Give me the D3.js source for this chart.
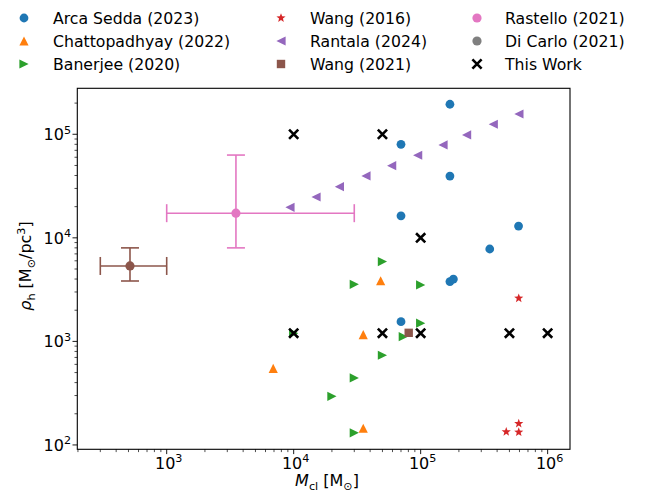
<!DOCTYPE html>
<html><head><meta charset="utf-8">
<script src="https://cdn.jsdelivr.net/npm/d3@7"></script>
<style>body{margin:0;background:#fff} text{font-family:"DejaVu Sans",sans-serif;fill:#000}</style>
</head><body><svg id="c" width="649" height="494"></svg>
<script>
// ---- data ----
const arcaX = [7.0e4, 1.70e5, 1.70e5, 7.0e4, 5.9e5, 3.5e5, 1.70e5, 1.81e5, 7.0e4];
const arcaY = [8.0e4, 1.95e5, 3.95e4, 1.63e4, 1.30e4, 7.8e3, 3.78e3, 4.0e3, 1.55e3];
const banX = [5e4, 3e4, 1e5, 1e5, 7.3e4, 5e4, 3e4, 2e4, 3e4, 1e4];
const banY = [5.9e3, 3.56e3, 3.51e3, 1.50e3, 1.11e3, 735, 444, 295, 131, 1.2e3];
const chaX = [4.84e4, 3.53e4, 6.9e3, 3.53e4];
const chaY = [3.85e3, 1.16e3, 550, 145];
const wang16X = [5.92e5, 4.72e5, 5.92e5, 5.92e5];
const wang16Y = [2.61e3, 134, 161, 133];
const ranX = [9.35e3, 1.50e4, 2.29e4, 3.71e4, 5.91e4, 9.47e4, 1.50e5, 2.30e5, 3.73e5, 5.94e5];
const ranY = [1.97e4, 2.48e4, 3.12e4, 3.96e4, 4.98e4, 6.27e4, 7.89e4, 9.86e4, 1.25e5, 1.57e5];
const wang21X = [8.05e4];
const wang21Y = [1.21e3];
const rasX = 3.51e3, rasY = 1.73e4, rasXlo = 1e3, rasXhi = 3e4, rasYlo = 8.0e3, rasYhi = 6.3e4;
const dicX = 514, dicY = 5.35e3, dicXlo = 300, dicXhi = 1e3, dicYlo = 3.83e3, dicYhi = 8.0e3;
const workX = [1e4, 5e4, 1e5, 1e4, 5e4, 1e5, 5e5, 1e6];
const workY = [1e5, 1e5, 1e4, 1.2e3, 1.2e3, 1.2e3, 1.2e3, 1.2e3];
const xTicks = [1e3, 1e4, 1e5, 1e6];
const yTicks = [1e2, 1e3, 1e4, 1e5];
const legendLabels = ["Arca Sedda (2023)", "Chattopadhyay (2022)", "Banerjee (2020)",
  "Wang (2016)", "Rantala (2024)", "Wang (2021)",
  "Rastello (2021)", "Di Carlo (2021)", "This Work"];

// ---- layout ----
const L = 77.3, R = 570, T = 88.3, B = 449.3;
const x = d3.scaleLog().domain([Math.pow(10, 2.296), Math.pow(10, 6.176)]).range([L, R]);
const y = d3.scaleLog().domain([Math.pow(10, 1.958), Math.pow(10, 5.444)]).range([B, T]);
const svg = d3.select("#c");
const C = {blue:"#1f77b4", orange:"#ff7f0e", green:"#2ca02c", red:"#d62728", purple:"#9467bd",
  brown:"#8c564b", pink:"#e377c2", gray:"#7f7f7f"};

// marker paths
const rT = 4.6;
const shapes = {
  circle: r => `M${r},0A${r},${r} 0 1,1 ${-r},0A${r},${r} 0 1,1 ${r},0Z`,
  up: r => `M0,${-r}L${-r},${r}L${r},${r}Z`,
  left: r => `M${-r},0L${r},${-r}L${r},${r}Z`,
  right: r => `M${r},0L${-r},${-r}L${-r},${r}Z`,
  square: r => `M${-r},${-r}H${r}V${r}H${-r}Z`,
  star: r => {
    let p = [];
    for (let i = 0; i < 10; i++) {
      const a = -Math.PI / 2 + i * Math.PI / 5;
      const rr = i % 2 ? r * 0.42 : r;
      p.push([rr * Math.cos(a), rr * Math.sin(a)]);
    }
    return "M" + p.map(d => d[0].toFixed(2) + "," + d[1].toFixed(2)).join("L") + "Z";
  },
  cross: r => `M${-r},${-r}L${r},${r}M${-r},${r}L${r},${-r}`
};

const g = svg.append("g");
function scatter(xs, ys, shape, r, color) {
  g.selectAll(null).data(xs.map((v, i) => [v, ys[i]])).enter().append("path")
    .attr("d", shapes[shape](r))
    .attr("transform", d => `translate(${x(d[0])},${y(d[1])})`)
    .attr("fill", shape === "cross" ? "none" : color)
    .attr("stroke", shape === "cross" ? color : "none")
    .attr("stroke-width", shape === "cross" ? 2.6 : 0);
}
function errbar(cx, cy, xlo, xhi, ylo, yhi, color) {
  const cap = 9;
  const eg = g.append("g").attr("stroke", color).attr("stroke-width", 1.6).attr("fill", "none");
  eg.append("line").attr("x1", x(xlo)).attr("x2", x(xhi)).attr("y1", y(cy)).attr("y2", y(cy));
  eg.append("line").attr("x1", x(cx)).attr("x2", x(cx)).attr("y1", y(ylo)).attr("y2", y(yhi));
  [xlo, xhi].forEach(v => eg.append("line").attr("x1", x(v)).attr("x2", x(v)).attr("y1", y(cy) - cap).attr("y2", y(cy) + cap));
  [ylo, yhi].forEach(v => eg.append("line").attr("y1", y(v)).attr("y2", y(v)).attr("x1", x(cx) - cap).attr("x2", x(cx) + cap));
  g.append("path").attr("d", shapes.circle(4.6)).attr("transform", `translate(${x(cx)},${y(cy)})`).attr("fill", color);
}

scatter(arcaX, arcaY, "circle", 4.4, C.blue);
scatter(banX, banY, "right", rT, C.green);
scatter(chaX, chaY, "up", rT, C.orange);
scatter(wang16X, wang16Y, "star", 4.8, C.red);
scatter(ranX, ranY, "left", rT, C.purple);
scatter(wang21X, wang21Y, "square", 4.2, C.brown);
errbar(rasX, rasY, rasXlo, rasXhi, rasYlo, rasYhi, C.pink);
errbar(dicX, dicY, dicXlo, dicXhi, dicYlo, dicYhi, C.brown);
scatter(workX, workY, "cross", 4.6, "#000");

// ---- axes ----
svg.append("rect").attr("x", L).attr("y", T).attr("width", R - L).attr("height", B - T)
  .attr("fill", "none").attr("stroke", "#000").attr("stroke-width", 1.1);

function minors(dom) {
  const out = [];
  for (let e = Math.floor(Math.log10(dom[0])); e <= Math.ceil(Math.log10(dom[1])); e++)
    for (let m = 2; m <= 9; m++) { const v = m * Math.pow(10, e); if (v >= dom[0] && v <= dom[1]) out.push(v); }
  return out;
}
const tk = svg.append("g").attr("stroke", "#000").attr("stroke-width", 0.9);
minors(x.domain()).forEach(v => tk.append("line").attr("x1", x(v)).attr("x2", x(v)).attr("y1", B).attr("y2", B + 2.8).attr("stroke-width", 0.7));
minors(y.domain()).forEach(v => tk.append("line").attr("y1", y(v)).attr("y2", y(v)).attr("x1", L).attr("x2", L - 2.8).attr("stroke-width", 0.7));
xTicks.forEach(v => tk.append("line").attr("x1", x(v)).attr("x2", x(v)).attr("y1", B).attr("y2", B + 4.8));
yTicks.forEach(v => tk.append("line").attr("y1", y(v)).attr("y2", y(v)).attr("x1", L).attr("x2", L - 4.8));

const FS = 16;
function powLabel(sel, v) {
  const e = Math.round(Math.log10(v));
  sel.append("tspan").text("10");
  sel.append("tspan").attr("dy", -0.42 * FS).attr("font-size", FS * 0.7).text(e);
}
xTicks.forEach(v => {
  const t = svg.append("text").attr("x", x(v) + 2).attr("y", 469).attr("text-anchor", "middle").attr("font-size", FS);
  powLabel(t, v);
});
yTicks.forEach(v => {
  const t = svg.append("text").attr("x", 71).attr("y", y(v) + 6).attr("text-anchor", "end").attr("font-size", FS);
  powLabel(t, v);
});

// axis labels
const xl = svg.append("text").attr("x", 327).attr("y", 486).attr("text-anchor", "middle").attr("font-size", FS);
xl.append("tspan").attr("font-style", "italic").text("M");
xl.append("tspan").attr("dy", 3.5).attr("font-size", FS * 0.7).text("cl");
xl.append("tspan").attr("dy", -3.5).text(" [M");
xl.append("tspan").attr("dy", 3.5).attr("font-size", FS * 0.7).text("⊙");
xl.append("tspan").attr("dy", -3.5).text("]");

const yl = svg.append("text").attr("transform", "translate(31,266) rotate(-90)").attr("text-anchor", "middle").attr("font-size", FS);
yl.append("tspan").attr("font-style", "italic").text("ρ");
yl.append("tspan").attr("dy", 3.5).attr("font-size", FS * 0.7).text("h");
yl.append("tspan").attr("dy", -3.5).text(" [M");
yl.append("tspan").attr("dy", 3.5).attr("font-size", FS * 0.7).text("⊙");
yl.append("tspan").attr("dy", -3.5).text("/pc");
yl.append("tspan").attr("dy", -6).attr("font-size", FS * 0.7).text("3");
yl.append("tspan").attr("dy", 6).text("]");

// ---- legend ----
const legItems = [
  {shape:"circle", c:C.blue, r:4.4}, {shape:"up", c:C.orange, r:rT}, {shape:"right", c:C.green, r:rT},
  {shape:"star", c:C.red, r:4.8}, {shape:"left", c:C.purple, r:rT}, {shape:"square", c:C.brown, r:4.2},
  {shape:"circle", c:C.pink, r:4.6}, {shape:"circle", c:C.gray, r:4.6}, {shape:"cross", c:"#000", r:4.6}
];
const colMark = [24, 281, 477], colText = [53, 310, 505], rowY = [18, 41, 64];
legItems.forEach((it, i) => {
  const col = Math.floor(i / 3), row = i % 3;
  svg.append("path").attr("d", shapes[it.shape](it.r))
    .attr("transform", `translate(${colMark[col]},${rowY[row]})`)
    .attr("fill", it.shape === "cross" ? "none" : it.c)
    .attr("stroke", it.shape === "cross" ? it.c : "none")
    .attr("stroke-width", it.shape === "cross" ? 2.6 : 0);
  svg.append("text").attr("x", colText[col]).attr("y", rowY[row] + 5.5).attr("font-size", 15.7).text(legendLabels[i]);
});
</script></body></html>
